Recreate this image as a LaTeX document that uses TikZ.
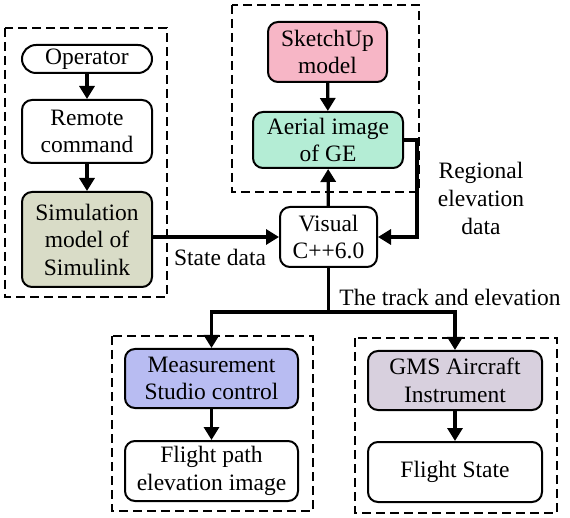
\documentclass[tikz,border=0pt]{standalone}
\usepackage{fontspec}
\setmainfont{Liberation Serif}
\usetikzlibrary{arrows.meta,calc}
\definecolor{simc}{HTML}{D9DCC7}
\definecolor{skc}{HTML}{F7B6C6}
\definecolor{aec}{HTML}{B4EDD5}
\definecolor{msc}{HTML}{B8BCF2}
\definecolor{gmc}{HTML}{D8D0DE}
\tikzset{
  blk/.style={draw, line width=2pt, rounded corners=10pt, align=center, inner sep=0pt,
    font=\fontsize{23.5}{27.5}\selectfont},
  frame/.style={draw, line width=1.7pt, dash pattern=on 9pt off 5pt},
  conn/.style={line width=3.2pt, -{Triangle[length=13pt,width=15pt]}},
  lbl/.style={align=center, inner sep=0pt, font=\fontsize{23.5}{28}\selectfont}
}
\begin{document}
\begin{tikzpicture}[x=1pt,y=-1pt]
\useasboundingbox (0,0) rectangle (570,518);
% dashed frames
\draw[frame] (5,28) rectangle (167,297);
\draw[frame] (232,5) rectangle (419,192);
\draw[frame] (112,336) rectangle (313,511);
\draw[frame] (355,338) rectangle (557,513);
% nodes
\node[blk, rounded corners=14pt, minimum width=130pt, minimum height=28pt] (op) at (87,59) {Operator};
\node[blk, minimum width=130pt, minimum height=63pt] (rc) at (87,131.5) {Remote\\command};
\node[blk, fill=simc, minimum width=130pt, minimum height=95pt] (sim) at (87,239.5) {Simulation\\model of\\Simulink};
\node[blk, fill=skc, minimum width=119pt, minimum height=60pt] (sk) at (327.5,52) {SketchUp\\model};
\node[blk, fill=aec, minimum width=150pt, minimum height=56pt] (ae) at (328,140) {Aerial image\\of GE};
\node[blk, minimum width=97pt, minimum height=60pt] (vc) at (328.5,237) {Visual\\C++6.0};
\node[blk, fill=msc, minimum width=173pt, minimum height=59pt] (ms) at (211.5,378.5) {Measurement\\Studio control};
\node[blk, minimum width=173pt, minimum height=60pt] (fp) at (211.5,471) {Flight path\\elevation image};
\node[blk, fill=gmc, minimum width=174pt, minimum height=59pt] (gms) at (455,380.5) {GMS Aircraft\\Instrument};
\node[blk, minimum width=174pt, minimum height=60pt] (fs) at (455,472) {Flight State};
% labels
\node[lbl] (sd) at (220,257) {State data};
\node[lbl] (te) at (450,297) {The track and elevation};
\node[lbl] (re) at (481,198) {Regional\\elevation\\data};
% connectors
\draw[conn] (op) -- (rc);
\draw[conn] (rc) -- (sim);
\draw[conn] (sk) -- (ae);
\draw[conn] (vc) -- (ae);
\draw[conn] (sim.east |- vc.west) -- (vc.west);
\draw[conn] (ae.east) -- ++(13,0) |- (vc.east);
\coordinate (j) at (328.5,312);
\draw[conn] (vc.south) -- (j) -| (ms.north);
\draw[conn] (j) -| (gms.north);
\draw[conn] (ms) -- (fp);
\draw[conn] (gms) -- (fs);
\end{tikzpicture}
\end{document}
